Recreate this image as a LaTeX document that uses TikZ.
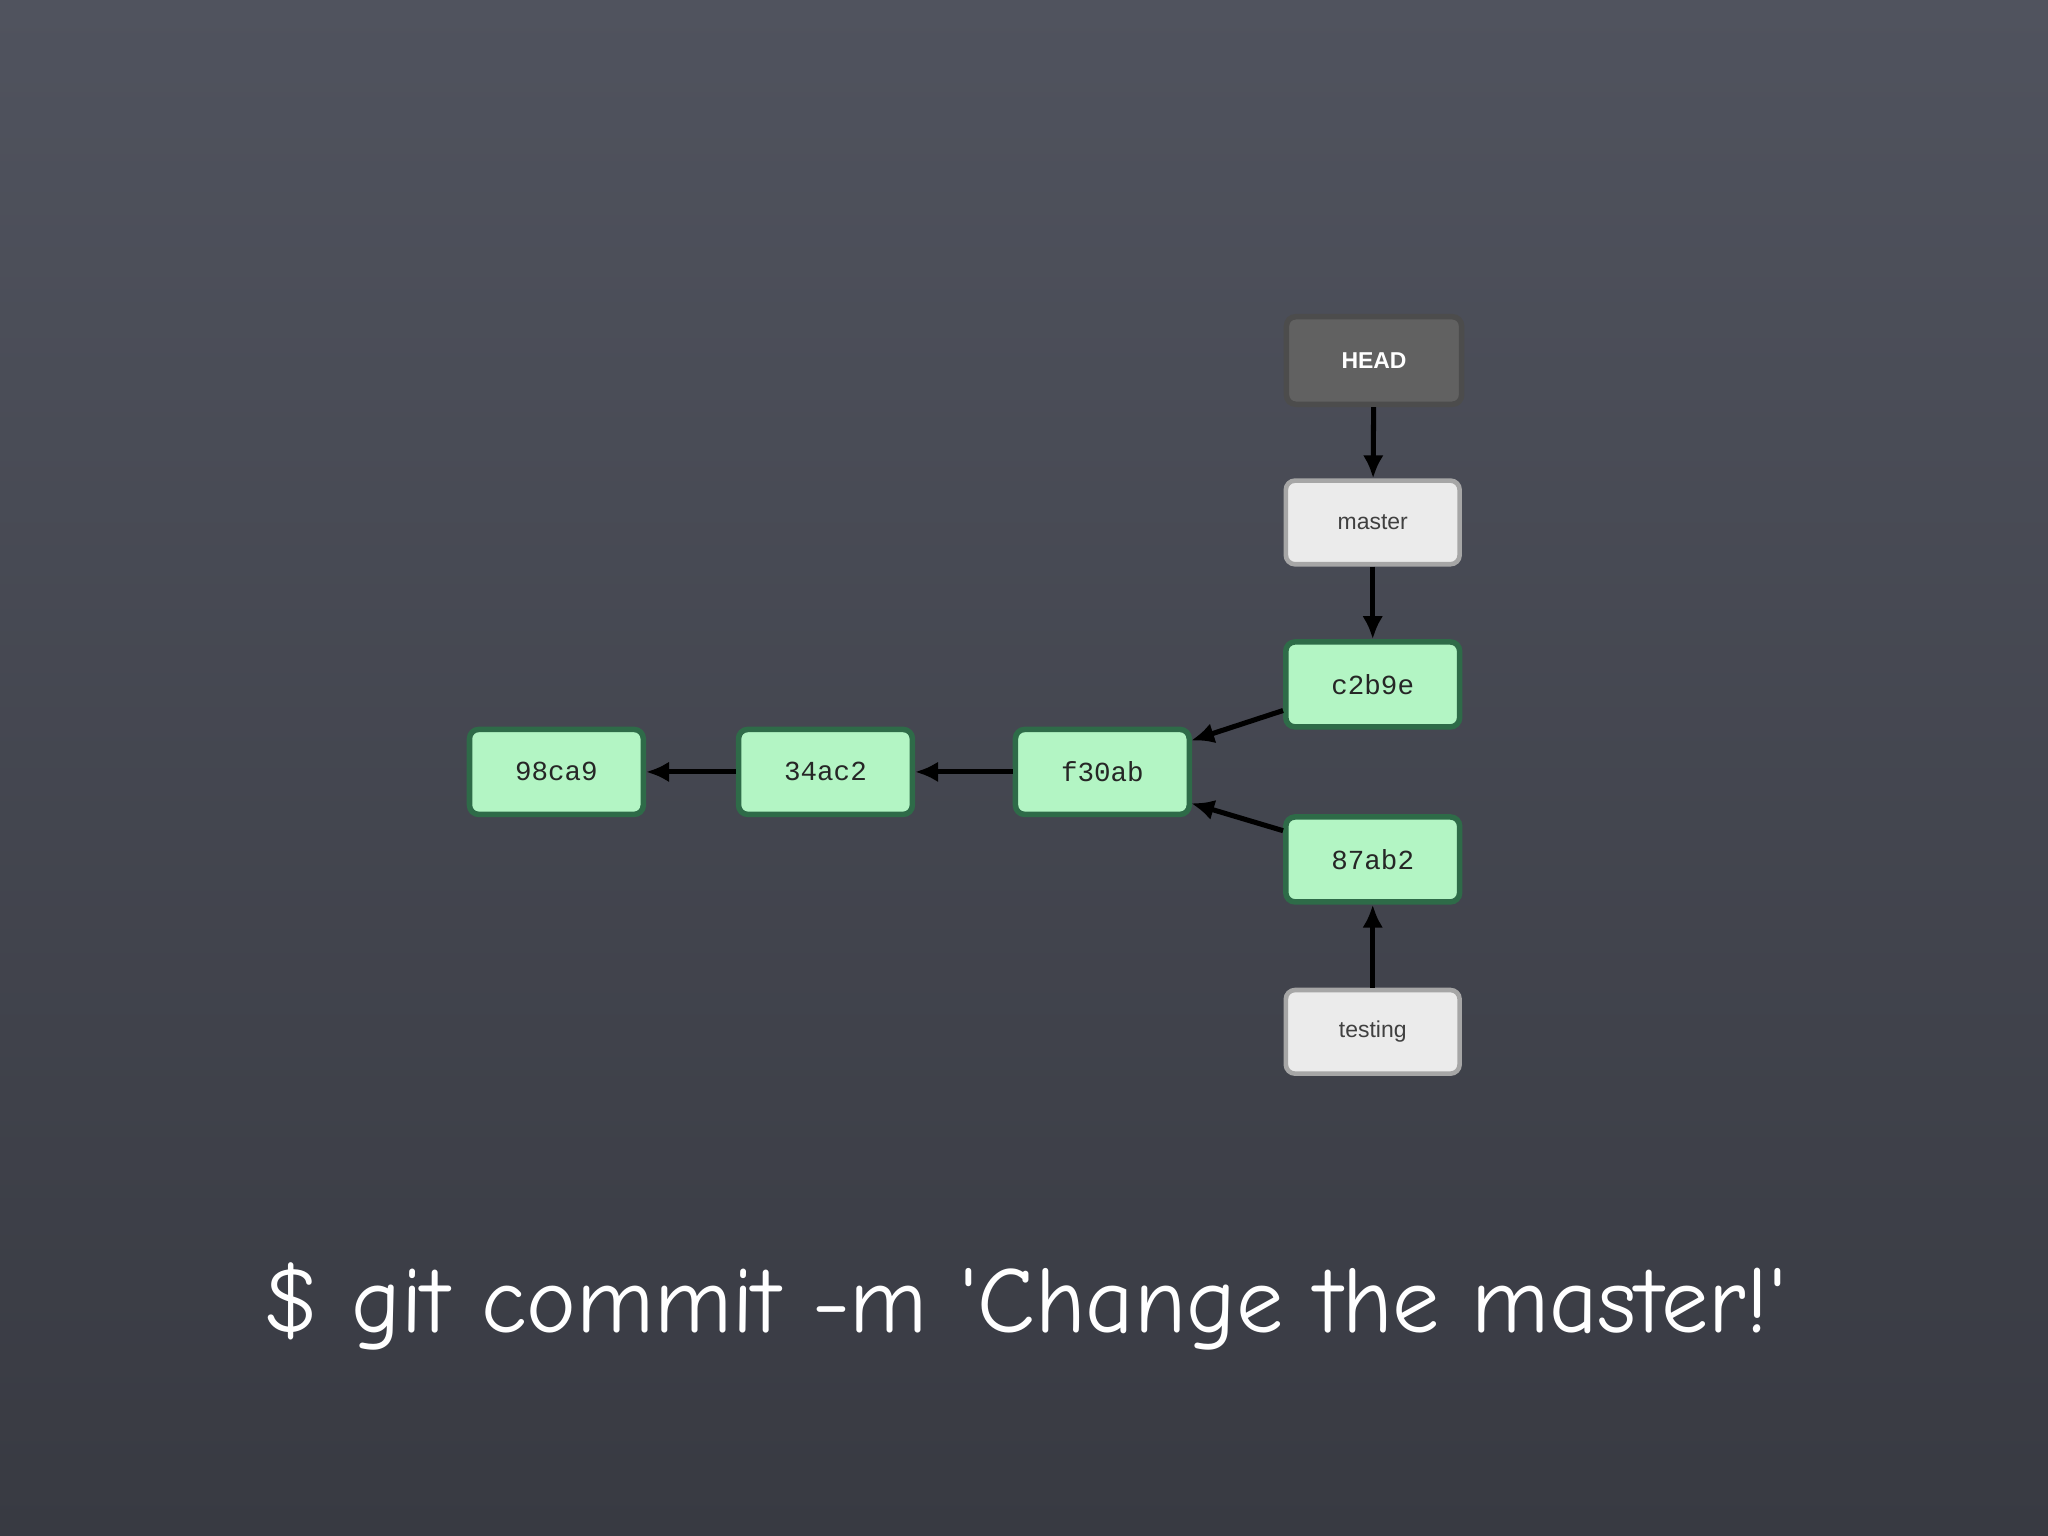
\documentclass[tikz,border=0pt]{standalone}
\usepackage{fontspec}
\setmainfont{Liberation Sans}
\newfontfamily\monof{Liberation Mono}
\newfontfamily\handf{Comic Neue}
\usetikzlibrary{arrows.meta}
\definecolor{bgtop}{HTML}{50535E}
\definecolor{bgbot}{HTML}{383A42}
\definecolor{cgreen}{HTML}{B3F5C4}
\definecolor{cborder}{HTML}{2E6B48}
\tikzset{
 x=0.01cm,y=-0.01cm,
 commit/.style={draw=cborder,line width=1.2pt,fill=cgreen,rounded corners=2pt,minimum width=1.33cm,minimum height=0.65cm,font=\monof\fontsize{6}{7}\selectfont,text=black!85},
 branch/.style={draw=gray!70,line width=1pt,fill=black!8,rounded corners=2pt,minimum width=1.33cm,minimum height=0.64cm,font=\fontsize{5}{6}\selectfont,text=black!75},
 headbox/.style={draw=black!70,line width=1.2pt,fill=black!62,rounded corners=2pt,minimum width=1.34cm,minimum height=0.67cm,font=\fontsize{5}{6}\selectfont\bfseries,text=white},
 conn/.style={-{Latex[length=5pt,width=4.5pt]},line width=1.1pt,black}
}
\begin{document}
\begin{tikzpicture}
\shade[top color=bgtop,bottom color=bgbot] (0,0) rectangle (1568,1176);
\useasboundingbox (0,0) rectangle (1568,1176);
\node[headbox] (head) at (1052,276) {HEAD};
\node[branch] (master) at (1051,400) {master};
\node[commit] (c2b9e) at (1051,524) {c2b9e};
\node[commit] (f30ab) at (844,591) {f30ab};
\node[commit] (34ac2) at (632,591) {34ac2};
\node[commit] (98ca9) at (426,591) {98ca9};
\node[commit] (87ab2) at (1051,658) {87ab2};
\node[branch] (testing) at (1051,790) {testing};
\draw[conn] (head) -- (master);
\draw[conn] (master) -- (c2b9e);
\draw[conn] (c2b9e.west) ++(0,20) -- (912,567);
\draw[conn] (87ab2.west) ++(0,-22) -- (912,615);
\draw[conn] (f30ab) -- (34ac2);
\draw[conn] (34ac2) -- (98ca9);
\draw[conn] (testing) -- (87ab2);
\node[text=white,font=\handf\fontsize{20.5}{24}\selectfont] (cmd) at (785,1000) {\$ git commit -m 'Change the master!'};
\end{tikzpicture}
\end{document}
